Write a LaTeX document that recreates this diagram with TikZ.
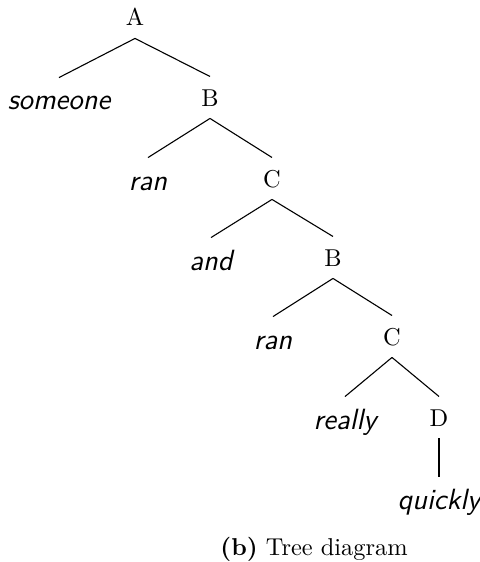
\documentclass[tikz,border=0pt]{standalone}
\begin{document}
\begin{tikzpicture}[
  x=0.41pt, y=-0.41pt,
  inner/.style={inner sep=0pt, anchor=base, text height=11.9pt, text depth=4.9pt},
  leaf/.style={inner sep=0pt, anchor=base, text height=13.1pt, text depth=0pt,
               font=\sffamily\itshape\large},
  branch/.style={draw=black, line width=0.45pt}
]
\useasboundingbox (0,0) rectangle (479,562);

% inner nodes (serif, upright)
\node[inner] (A)  at (135,26)  {A};
\node[inner] (B1) at (210,106) {B};
\node[inner] (C1) at (272,187) {C};
\node[inner] (B2) at (333,266) {B};
\node[inner] (C2) at (392,345) {C};
\node[inner] (D)  at (439,426) {D};

% leaves (sans, italic)
\node[leaf] (someone) at (59,110)  {someone};
\node[leaf] (ran1)    at (148,190) {ran};
\node[leaf] (and)     at (211,270) {and};
\node[leaf] (ran2)    at (273,349) {ran};
\node[leaf] (really)  at (345,429) {really};
\node[leaf] (quickly) at (439,509) {quickly};

% branches
\draw[branch] (A.south)  -- (someone.north);
\draw[branch] (A.south)  -- (B1.north);
\draw[branch] (B1.south) -- (ran1.north);
\draw[branch] (B1.south) -- (C1.north);
\draw[branch] (C1.south) -- (and.north);
\draw[branch] (C1.south) -- (B2.north);
\draw[branch] (B2.south) -- (ran2.north);
\draw[branch] (B2.south) -- (C2.north);
\draw[branch] (C2.south) -- (really.north);
\draw[branch] (C2.south) -- (D.north);
\draw[branch] (D.south)  -- (quickly.north);

% caption
\node[inner sep=0pt, anchor=base] (cap) at (314,555) {\textbf{(b)} Tree diagram};
\end{tikzpicture}
\end{document}
